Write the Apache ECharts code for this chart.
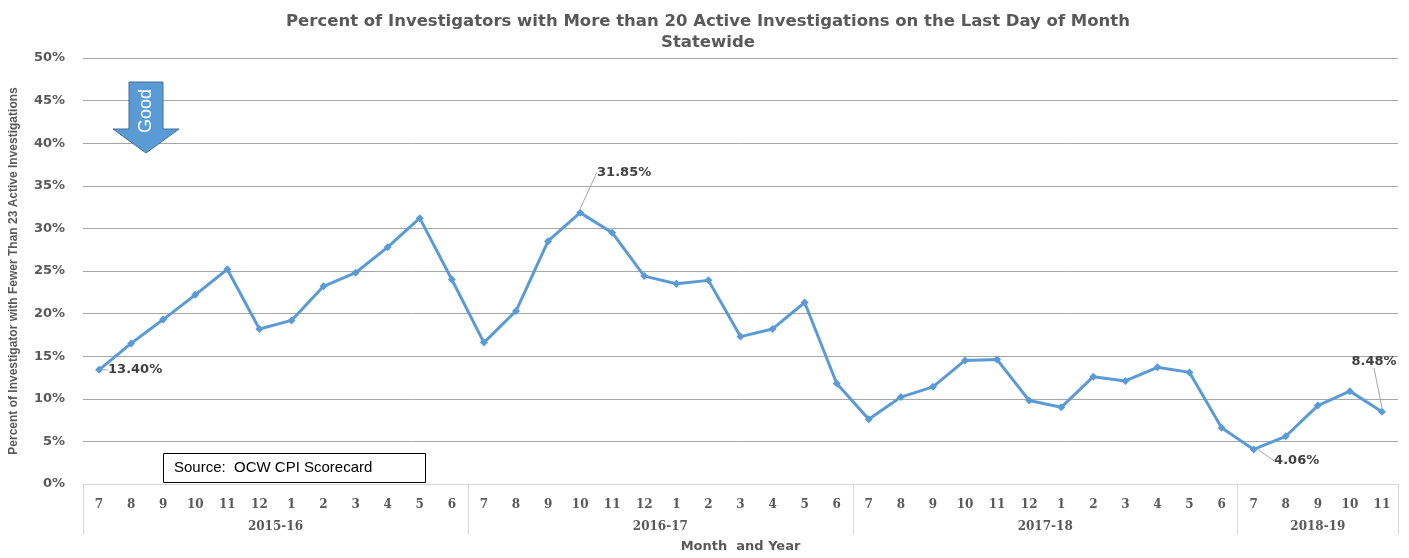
<!DOCTYPE html>
<html>
<head>
<meta charset="utf-8">
<script src="https://cdn.jsdelivr.net/npm/echarts@6/dist/echarts.min.js"></script>
<style>
html,body{margin:0;padding:0;background:#fff;}
#chart{width:1409px;height:558px;}
</style>
</head>
<body>
<div id="chart"></div>
<script>
// ---- data ----
const titleText = 'Percent of Investigators with More than 20 Active Investigations on the Last Day of Month\nStatewide';
const yAxisName = 'Percent of Investigator with Fewer Than 23 Active Investigations';
const xAxisName = 'Month  and Year';
const years = ['2015-16', '2016-17', '2017-18', '2018-19'];
const yearMonthCounts = [12, 12, 12, 5];
const months = [
  '7','8','9','10','11','12','1','2','3','4','5','6',
  '7','8','9','10','11','12','1','2','3','4','5','6',
  '7','8','9','10','11','12','1','2','3','4','5','6',
  '7','8','9','10','11'
];
const values = [
  13.40, 16.5, 19.3, 22.2, 25.2, 18.2, 19.2, 23.2, 24.8, 27.8, 31.2, 24.0,
  16.6, 20.3, 28.5, 31.85, 29.5, 24.4, 23.5, 23.9, 17.3, 18.2, 21.3, 11.8,
  7.6, 10.2, 11.4, 14.5, 14.6, 9.8, 9.0, 12.6, 12.1, 13.7, 13.1, 6.6,
  4.06, 5.6, 9.2, 10.9, 8.48
];
const yTicks = {min: 0, max: 50, interval: 5};
// indices of labelled points and label offsets (style only)
const labelled = {0: {dx: 0, dy: 0, pos: 'right'}, 15: {dx: 44, dy: -25}, 36: {dx: 43, dy: 27}, 40: {dx: -8, dy: -35}};

// derived group boundaries / centers
const boundaries = [0];
yearMonthCounts.forEach(c => boundaries.push(boundaries[boundaries.length - 1] + c));
const centers = yearMonthCounts.map((c, i) => boundaries[i] + c / 2);

const chart = echarts.init(document.getElementById('chart'), null, {renderer: 'canvas'});

const seriesData = values.map((v, i) => {
  const item = {value: v};
  if (labelled[i] !== undefined) {
    item.label = {
      show: true,
      position: labelled[i].pos || 'top',
      offset: labelled[i].pos === 'right' ? [13, 3] : [0, 0],
      formatter: p => p.value.toFixed(2) + '%'
    };
  }
  return item;
});

const axisFontColor = '#595959';

const option = {
  backgroundColor: '#ffffff',
  animation: false,
  title: {
    text: titleText,
    left: 703,
    top: 6,
    textAlign: 'center',
    textStyle: {
      fontFamily: 'DejaVu Sans',
      fontWeight: 'bold',
      fontSize: 16.5,
      color: '#595959',
      lineHeight: 21
    }
  },
  grid: {left: 83, right: 11, top: 58, bottom: 67, containLabel: false},
  xAxis: [
    {
      type: 'category',
      data: months,
      boundaryGap: true,
      position: 'bottom',
      axisLine: {show: true, lineStyle: {color: '#d9d9d9', width: 1}},
      axisTick: {show: false},
      axisLabel: {
        interval: 0,
        margin: 15,
        fontFamily: 'DejaVu Serif',
        fontWeight: 'bold',
        fontSize: 12,
        color: axisFontColor
      },
      name: xAxisName,
      nameLocation: 'middle',
      nameGap: 56,
      nameTextStyle: {
        fontFamily: 'DejaVu Sans',
        fontWeight: 'bold',
        fontSize: 13,
        color: axisFontColor
      },
      splitLine: {show: false}
    },
    {
      type: 'value',
      min: 0,
      max: months.length,
      position: 'bottom',
      axisLine: {show: false},
      axisTick: {
        show: true,
        customValues: boundaries,
        length: 50,
        lineStyle: {color: '#d9d9d9', width: 1}
      },
      axisLabel: {
        show: true,
        customValues: centers,
        margin: 37,
        formatter: function (v) {
          const idx = centers.findIndex(c => Math.abs(c - v) < 1e-6);
          return idx >= 0 ? years[idx] : '';
        },
        fontFamily: 'DejaVu Serif',
        fontWeight: 'bold',
        fontSize: 12,
        color: axisFontColor
      },
      splitLine: {show: false}
    }
  ],
  yAxis: {
    type: 'value',
    min: yTicks.min,
    max: yTicks.max,
    interval: yTicks.interval,
    axisLine: {show: false},
    axisTick: {show: false},
    axisLabel: {
      formatter: '{value}%',
      margin: 18,
      fontFamily: 'DejaVu Sans',
      fontWeight: 'bold',
      fontSize: 13,
      color: axisFontColor
    },
    splitLine: {show: true, lineStyle: {color: '#a6a6a6', width: 1}},
    name: yAxisName,
    nameLocation: 'middle',
    nameRotate: 90,
    nameGap: 63,
    nameTextStyle: {
      fontFamily: 'Liberation Sans',
      fontWeight: 'bold',
      fontSize: 12,
      color: axisFontColor
    }
  },
  series: [
    {
      type: 'line',
      xAxisIndex: 0,
      data: seriesData,
      symbol: 'diamond',
      symbolSize: 8,
      lineStyle: {color: '#5b9bd5', width: 3},
      itemStyle: {color: '#5b9bd5'},
      label: {
        show: false,
        fontFamily: 'DejaVu Sans',
        fontWeight: 'bold',
        fontSize: 13,
        color: '#404040'
      },
      labelLine: {show: true, lineStyle: {color: '#a6a6a6', width: 1}, smooth: false},
      labelLayout: function (p) {
        const cfg = labelled[p.dataIndex];
        if (!cfg || cfg.pos === 'right') return {};
        return {dx: cfg.dx, dy: cfg.dy};
      },
      z: 5
    }
  ],
  graphic: [
    {
      type: 'polygon',
      shape: {points: [[129, 82], [163, 82], [163, 129], [179, 129], [146, 153], [113, 129], [129, 129]]},
      style: {fill: '#5b9bd5', stroke: '#41719c', lineWidth: 1},
      z: 10
    },
    {
      type: 'text',
      x: 146,
      y: 111,
      rotation: Math.PI / 2,
      style: {
        text: 'Good',
        fill: '#ffffff',
        font: '18px "Liberation Sans", Arial, sans-serif',
        textAlign: 'center',
        textVerticalAlign: 'middle'
      },
      z: 11
    },
    {
      type: 'rect',
      shape: {x: 163.5, y: 453.5, width: 262, height: 29},
      style: {fill: '#ffffff', stroke: '#000000', lineWidth: 1},
      z: 10
    },
    {
      type: 'text',
      x: 174,
      y: 468,
      style: {
        text: 'Source:  OCW CPI Scorecard',
        fill: '#000000',
        font: '15px "Liberation Sans", Arial, sans-serif',
        textVerticalAlign: 'middle'
      },
      z: 11
    }
  ]
};

chart.setOption(option);
</script>
</body>
</html>
